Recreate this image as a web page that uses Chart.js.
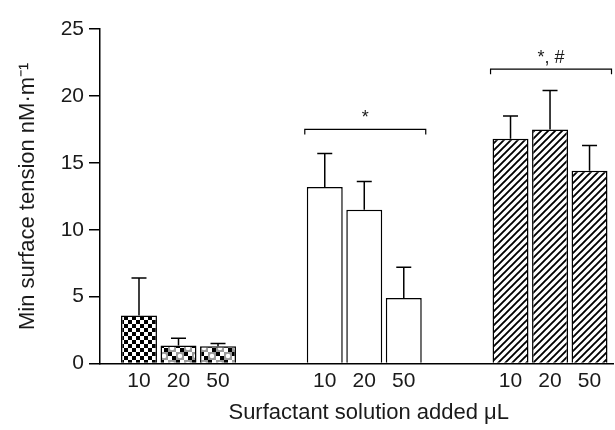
<!DOCTYPE html>
<html>
<head>
<meta charset="utf-8">
<script src="https://cdn.jsdelivr.net/npm/chart.js@4"></script>
<style>
  html, body { margin: 0; padding: 0; background: #fff; }
  #wrap { width: 615px; height: 430px; }
</style>
</head>
<body>
<div id="wrap"><canvas id="tension"></canvas></div>
<script>
// three surfactant preparations, each tested at 10, 20 and 50 uL
const groups = ['Group 1', 'Group 2', 'Group 3'];
const volumes = ['10', '20', '50'];
const mean10 = [3.6, 13.2, 16.8];
const mean20 = [1.35, 11.5, 17.5];
const mean50 = [1.3, 4.9, 14.4];
const sd10 = [2.8, 2.5, 1.7];
const sd20 = [0.55, 2.1, 2.9];
const sd50 = [0.2, 2.3, 1.9];
const yTicks = [0, 5, 10, 15, 20, 25];
const sigGroups = [1, 2];
const sigLabels = ['*', '*, #'];
const sigLevels = [17.5, 22.0];

const means = [mean10, mean20, mean50];
const sds = [sd10, sd20, sd50];
const ink = '#1a1a1a';
const fontFamily = "'Liberation Sans', Arial, sans-serif";

function makePattern(kind) {
    const c = document.createElement('canvas');
    const g = c.getContext('2d');
    if (kind === 'checker') {
        c.width = c.height = 8;
        g.fillStyle = '#fff'; g.fillRect(0, 0, 8, 8);
        g.fillStyle = '#000'; g.fillRect(0, 0, 4, 4); g.fillRect(4, 4, 4, 4);
    } else if (kind === 'mottled') {
        c.width = c.height = 16;
        g.fillStyle = '#fff'; g.fillRect(0, 0, 16, 16);
        g.fillStyle = '#9a9a9a'; g.fillRect(0, 0, 8, 8); g.fillRect(8, 8, 8, 8);
        g.fillStyle = '#fff';
        g.beginPath(); g.arc(4, 4, 2.3, 0, Math.PI * 2); g.arc(12, 12, 2.3, 0, Math.PI * 2); g.fill();
        g.fillStyle = '#000';
        g.fillRect(8, 0, 4, 4); g.fillRect(12, 4, 4, 4);
        g.fillRect(0, 8, 4, 4); g.fillRect(4, 12, 4, 4);
    } else {
        c.width = c.height = 7;
        g.fillStyle = '#fff'; g.fillRect(0, 0, 7, 7);
        g.strokeStyle = '#000'; g.lineWidth = 1.9;
        g.beginPath();
        g.moveTo(-1, 8); g.lineTo(8, -1);
        g.moveTo(-1, 1); g.lineTo(1, -1);
        g.moveTo(6, 8); g.lineTo(8, 6);
        g.stroke();
    }
    return g.createPattern(c, 'repeat');
}

const checker = makePattern('checker');
const mottled = makePattern('mottled');
const hatch = makePattern('hatch');
const fills = [
    [checker, '#fff', hatch],
    [mottled, '#fff', hatch],
    [mottled, '#fff', hatch]
];

const extras = {
    id: 'extras',
    afterDatasetsDraw(chart) {
        const { ctx, scales: { y }, chartArea } = chart;
        ctx.save();
        ctx.strokeStyle = '#000';
        ctx.lineWidth = 1.5;
        ctx.fillStyle = ink;
        ctx.textAlign = 'center';
        ctx.textBaseline = 'middle';
        ctx.font = '21px ' + fontFamily;
        means.forEach((m, k) => {
            const meta = chart.getDatasetMeta(k);
            meta.data.forEach((bar, i) => {
                const top = y.getPixelForValue(m[i] + sds[k][i]);
                ctx.beginPath();
                ctx.moveTo(bar.x, bar.y);
                ctx.lineTo(bar.x, top);
                ctx.moveTo(bar.x - 7.5, top);
                ctx.lineTo(bar.x + 7.5, top);
                ctx.stroke();
                ctx.fillText(volumes[k], bar.x, chartArea.bottom + 18);
            });
        });

        // significance brackets over groups
        ctx.lineWidth = 1.2;
        sigGroups.forEach((gi, n) => {
            const first = chart.getDatasetMeta(0).data[gi];
            const last = chart.getDatasetMeta(means.length - 1).data[gi];
            const x0 = first.x - first.width / 2 - 2;
            const x1 = last.x + last.width / 2 + 4;
            const yy = y.getPixelForValue(sigLevels[n]);
            ctx.beginPath();
            ctx.moveTo(x0, yy + 5);
            ctx.lineTo(x0, yy);
            ctx.lineTo(x1, yy);
            ctx.lineTo(x1, yy + 5);
            ctx.stroke();
            ctx.font = '18px ' + fontFamily;
            ctx.fillText(sigLabels[n], (x0 + x1) / 2, yy - 11);
        });
        ctx.restore();
    }
};

const ctx = document.getElementById('tension').getContext('2d');
const tensionChart = new Chart(ctx, {
    type: 'bar',
    data: {
        datasets: volumes.map((v, k) => ({
            label: v + ' μL',
            data: groups.map((g, i) => ({ x: i, y: means[k][i] })),
            backgroundColor: fills[k],
            borderColor: '#000',
            borderWidth: 1.5,
            categoryPercentage: 0.638,
            barPercentage: 0.91
        }))
    },
    options: {
        responsive: true,
        maintainAspectRatio: false,
        animation: false,
        layout: { padding: { top: 29, right: 2, left: 0, bottom: 0 } },
        plugins: {
            legend: { display: false },
            tooltip: { enabled: false }
        },
        scales: {
            x: {
                type: 'linear',
                min: -0.4226,
                max: 2.339,
                offset: false,
                afterBuildTicks: s => { s.ticks = groups.map((g, i) => ({ value: i })); },
                ticks: { display: false },
                grid: { display: false, drawTicks: false },
                border: { display: true, color: '#000', width: 1.5 },
                title: {
                    display: true,
                    text: '\u00a0\u00a0\u00a0\u00a0Surfactant solution added μL',
                    color: ink,
                    font: { family: fontFamily, size: 22 },
                    padding: { top: 36, bottom: 4 }
                }
            },
            y: {
                min: 0,
                max: 25,
                afterBuildTicks: s => { s.ticks = yTicks.map(v => ({ value: v })); },
                afterFit: s => { s.width = 100; },
                ticks: { padding: 5, color: ink, font: { family: fontFamily, size: 21 } },
                grid: { display: true, drawOnChartArea: false, drawTicks: true, tickLength: 11, color: '#000', lineWidth: 1.5 },
                border: { display: true, color: '#000', width: 1.5 },
                title: {
                    display: true,
                    text: 'Min surface tension nM·m⁻¹',
                    color: ink,
                    font: { family: fontFamily, size: 22 },
                    padding: { top: 15, bottom: 0 }
                }
            }
        }
    },
    plugins: [extras]
});
</script>
</body>
</html>
